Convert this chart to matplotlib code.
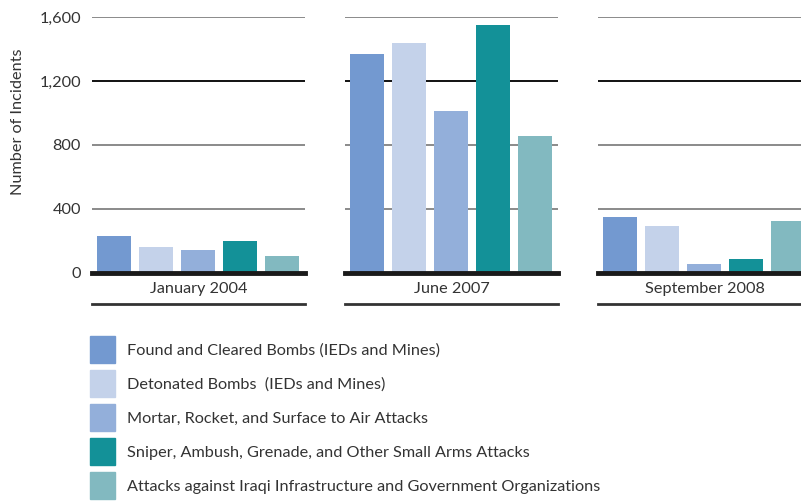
import matplotlib.pyplot as plt
from matplotlib.patches import Rectangle

# data
periods = ["January 2004", "June 2007", "September 2008"]
series_labels = [
    "Found and Cleared Bombs (IEDs and Mines)",
    "Detonated Bombs  (IEDs and Mines)",
    "Mortar, Rocket, and Surface to Air Attacks",
    "Sniper, Ambush, Grenade, and Other Small Arms Attacks",
    "Attacks against Iraqi Infrastructure and Government Organizations",
]
jan_2004 = [230, 162, 144, 200, 106]
jun_2007 = [1369, 1437, 1012, 1550, 856]
sep_2008 = [350, 294, 56, 88, 325]
yticks = [0, 400, 800, 1200, 1600]
ytick_labels = ["0", "400", "800", "1,200", "1,600"]

colors = ["#7399d0", "#c4d2ea", "#93afda", "#139198", "#82b9c0"]
text_color = "#333333"
fs = 11.7
plt.rcParams['font.family'] = ['Lato', 'DejaVu Sans']

W, H = 801, 501
fig = plt.figure(figsize=(W / 100, H / 100), dpi=100)

def px_axes(left, top, width, height):
    return fig.add_axes([left / W, 1 - (top + height) / H, width / W, height / H])

panel_lefts = [92, 345, 598]
values = [jan_2004, jun_2007, sep_2008]

for i, (left, vals, name) in enumerate(zip(panel_lefts, values, periods)):
    ax = px_axes(left, 17, 213, 256)
    xs = range(len(vals))
    ax.bar(xs, vals, width=34 / 42, color=colors, zorder=3)
    ax.set_xlim(-0.524, 4.548)
    ax.set_ylim(0, 1600)
    for y in yticks[1:]:
        c = "#111111" if y == 1200 else "#8a8a8a"
        ax.axhline(y, color=c, lw=1.4, zorder=1)
    ax.axhline(0, color="#1a1a1a", lw=3.5, zorder=4, clip_on=False)
    ax.plot([0, 1], [-0.121, -0.121], transform=ax.transAxes, color="#333333",
            lw=2, clip_on=False)
    ax.text(0.5, -0.063, name, transform=ax.transAxes, ha="center", va="center",
            fontsize=fs, color=text_color)
    for s in ax.spines.values():
        s.set_visible(False)
    ax.set_xticks([])
    if i == 0:
        ax.set_yticks(yticks)
        ax.set_yticklabels(ytick_labels, fontsize=fs, color=text_color)
        ax.tick_params(axis="y", length=0, pad=8)
    else:
        ax.set_yticks([])

fig.text(18 / W, 1 - 122 / H, "Number of Incidents", rotation=90, ha="center",
         va="center", fontsize=fs, color=text_color)

# legend drawn by hand
for k, (lab, col) in enumerate(zip(series_labels, colors)):
    top = 336 + 34 * k
    fig.patches.append(Rectangle((90 / W, 1 - (top + 27) / H), 25 / W, 27 / H,
                                 transform=fig.transFigure, color=col))
    fig.text(127 / W, 1 - (top + 15) / H, lab, ha="left", va="center",
             fontsize=fs, color=text_color)

fig.savefig("out.png", dpi=100)
